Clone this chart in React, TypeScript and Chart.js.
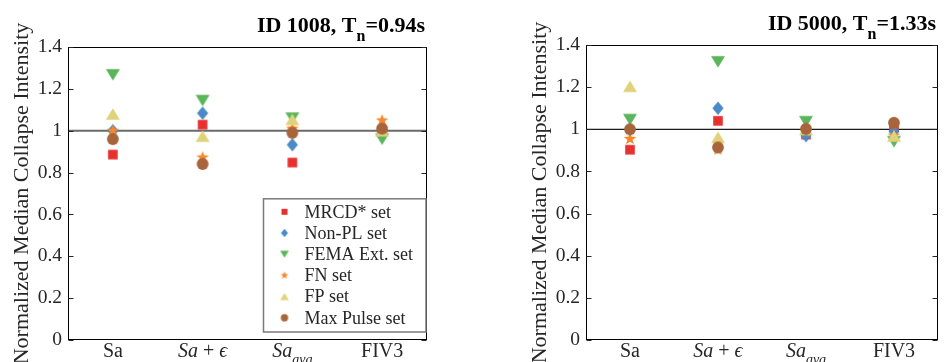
import React, { useEffect, useRef } from 'react';
import { Chart, registerables } from 'chart.js';

Chart.register(...registerables);

// ---------- data ----------
const categories = ['Sa', 'Sa + ϵ', 'Sa_avg', 'FIV3'];
const categoryIsMath = [false, true, true, false];

const seriesNames = ['MRCD* set', 'Non-PL set', 'FEMA Ext. set', 'FN set', 'FP set', 'Max Pulse set'];
const seriesColors = ['#E8302F', '#4A8AC6', '#5BB55A', '#F7872A', '#E0D27A', '#A8643B'];
const seriesShapes = ['square', 'diamond', 'triangleDown', 'star', 'triangleUp', 'circle'];

const yMin = 0;
const yMax = 1.4;
const yStep = 0.2;
const referenceValue = 1;
const yAxisLabel = 'Normalized Median Collapse Intensity';

// ID 1008, Tn = 0.94 s
const mrcd1008 = [0.886, 1.029, 0.848, 1.0];
const nonpl1008 = [1.0, 1.084, 0.933, 0.99];
const fema1008 = [1.267, 1.144, 1.06, 0.959];
const fn1008 = [1.0, 0.872, 1.01, 1.049];
const fp1008 = [1.08, 0.974, 1.054, 1.0];
const maxPulse1008 = [0.96, 0.841, 0.99, 1.01];

// ID 5000, Tn = 1.33 s
const mrcd5000 = [0.903, 1.04, 0.975, 1.012];
const nonpl5000 = [1.0, 1.1, 0.97, 0.99];
const fema5000 = [1.046, 1.32, 1.036, 0.941];
const fn5000 = [0.954, 0.904, 0.99, 0.97];
const fp5000 = [1.204, 0.962, 1.0, 0.968];
const maxPulse5000 = [1.0, 0.914, 1.002, 1.031];

const panels = [
  {
    id: 'ID 1008',
    period: '0.94s',
    series: [mrcd1008, nonpl1008, fema1008, fn1008, fp1008, maxPulse1008],
    showLegend: true,
  },
  {
    id: 'ID 5000',
    period: '1.33s',
    series: [mrcd5000, nonpl5000, fema5000, fn5000, fp5000, maxPulse5000],
    showLegend: false,
  },
];

// ---------- layout / style ----------
const panelLayouts = [
  { left: 0, width: 470, yAxisWidth: 68, padTop: 47, padRight: 43, ylabelX: 22, refColor: '#6a6a6a', refWidth: 2 },
  { left: 470, width: 475, yAxisWidth: 116, padTop: 45, padRight: 2, ylabelX: 70, refColor: '#1a1a1a', refWidth: 1.3 },
];
const HEIGHT = 362;
const PAD_BOTTOM = 22;
const FONT = "'Liberation Serif', 'Times New Roman', serif";
const TEXT = '#262626';

function traceShape(ctx: CanvasRenderingContext2D, shape: string, cx: number, cy: number, k: number) {
  ctx.beginPath();
  switch (shape) {
    case 'square': {
      const h = 4.8 * k;
      ctx.rect(cx - h, cy - h, 2 * h, 2 * h);
      break;
    }
    case 'circle':
      ctx.arc(cx, cy, 5.9 * k, 0, Math.PI * 2);
      break;
    case 'diamond': {
      const w = 5.6 * k, h = 6.8 * k;
      ctx.moveTo(cx, cy - h);
      ctx.lineTo(cx + w, cy);
      ctx.lineTo(cx, cy + h);
      ctx.lineTo(cx - w, cy);
      ctx.closePath();
      break;
    }
    case 'triangleUp': {
      const w = 7 * k, h = 5.7 * k;
      ctx.moveTo(cx, cy - h);
      ctx.lineTo(cx + w, cy + h);
      ctx.lineTo(cx - w, cy + h);
      ctx.closePath();
      break;
    }
    case 'triangleDown': {
      const w = 7 * k, h = 5.7 * k;
      ctx.moveTo(cx, cy + h);
      ctx.lineTo(cx + w, cy - h);
      ctx.lineTo(cx - w, cy - h);
      ctx.closePath();
      break;
    }
    case 'star': {
      const R = 6.6 * k, r = R * 0.42;
      for (let i = 0; i < 10; i++) {
        const a = -Math.PI / 2 + (i * Math.PI) / 5;
        const rad = i % 2 ? r : R;
        const px = cx + Math.cos(a) * rad, py = cy + Math.sin(a) * rad;
        if (i === 0) ctx.moveTo(px, py);
        else ctx.lineTo(px, py);
      }
      ctx.closePath();
      break;
    }
  }
}

function makeMarker(shape: string, color: string, k: number) {
  const c = document.createElement('canvas');
  const size = Math.ceil(16 * k) + 2;
  c.width = size;
  c.height = size;
  const ctx = c.getContext('2d')!;
  ctx.fillStyle = color;
  traceShape(ctx, shape, size / 2, size / 2, k);
  ctx.fill();
  return c;
}

type Seg = { text: string; italic: boolean; sub: boolean };
function labelSegments(label: string, isMath: boolean): Seg[] {
  if (!isMath) return [{ text: label, italic: false, sub: false }];
  const [base, sub] = label.split('_');
  const segs: Seg[] = [];
  base.split(/(\s\+\s)/).forEach((p) => {
    if (!p) return;
    segs.push({ text: p, italic: !/\+/.test(p), sub: false });
  });
  if (sub) segs.push({ text: sub, italic: true, sub: true });
  return segs;
}

function makeDecorPlugin(panelIndex: number) {
  const panel = panels[panelIndex];
  const lay = panelLayouts[panelIndex];
  const legendMarkers = seriesShapes.map((s, i) => makeMarker(s, seriesColors[i], 0.62));
  return {
    id: 'decor' + panelIndex,
    afterDraw(chart: any) {
      const ctx: CanvasRenderingContext2D = chart.ctx;
      const { left, right, top, bottom } = chart.chartArea;
      const ys = chart.scales.y;
      const xs = chart.scales.x;
      ctx.save();
      // axes box
      const L = Math.round(left) + 0.5, R = Math.round(right) - 0.5;
      const T = Math.round(top) + 0.5, B = Math.round(bottom) - 0.5;
      ctx.strokeStyle = '#000';
      ctx.lineWidth = 1;
      ctx.strokeRect(L, T, R - L, B - T);
      // inward y ticks
      ctx.strokeStyle = TEXT;
      ys.ticks.forEach((t: any) => {
        const y = Math.round(ys.getPixelForValue(t.value)) + 0.5;
        ctx.beginPath();
        ctx.moveTo(L, y);
        ctx.lineTo(L + 5, y);
        ctx.moveTo(R, y);
        ctx.lineTo(R - 5, y);
        ctx.stroke();
      });
      // y axis label
      ctx.save();
      ctx.translate(lay.ylabelX, (top + bottom) / 2);
      ctx.rotate(-Math.PI / 2);
      ctx.font = `22px ${FONT}`;
      ctx.fillStyle = TEXT;
      ctx.textAlign = 'center';
      ctx.textBaseline = 'middle';
      ctx.fillText(yAxisLabel, 0, 0);
      ctx.restore();
      // category labels
      ctx.textBaseline = 'alphabetic';
      ctx.textAlign = 'left';
      ctx.fillStyle = TEXT;
      categories.forEach((cat, i) => {
        const segs = labelSegments(cat, categoryIsMath[i]);
        const fontFor = (s: Seg) => `${s.italic ? 'italic ' : ''}${s.sub ? 14 : 20}px ${FONT}`;
        let total = 0;
        segs.forEach((s) => {
          ctx.font = fontFor(s);
          total += ctx.measureText(s.text).width;
        });
        let x = xs.getPixelForValue(i + 1) - total / 2;
        const base = bottom + 17;
        segs.forEach((s) => {
          ctx.font = fontFor(s);
          ctx.fillText(s.text, x, s.sub ? base + 7 : base);
          x += ctx.measureText(s.text).width;
        });
      });
      // title
      const mainFont = `bold 22px ${FONT}`;
      const subFont = `bold 16px ${FONT}`;
      const parts = [
        { text: `${panel.id}, T`, font: mainFont, dy: 0 },
        { text: 'n', font: subFont, dy: 9 },
        { text: `=${panel.period}`, font: mainFont, dy: 0 },
      ];
      let tw = 0;
      parts.forEach((p) => {
        ctx.font = p.font;
        tw += ctx.measureText(p.text).width;
      });
      let tx = right - 2 - tw;
      const tBase = top - 15.5;
      ctx.fillStyle = '#000';
      parts.forEach((p) => {
        ctx.font = p.font;
        ctx.fillText(p.text, tx, tBase + p.dy);
        tx += ctx.measureText(p.text).width;
      });
      // legend
      if (panel.showLegend) {
        ctx.font = `18px ${FONT}`;
        let maxW = 0;
        seriesNames.forEach((n) => (maxW = Math.max(maxW, ctx.measureText(n).width)));
        const rowH = 21.2;
        const bw = 41 + maxW + 13;
        const bh = rowH * seriesNames.length + 6;
        const bx = right - 1 - bw;
        const by = bottom - 8 - bh;
        ctx.fillStyle = '#fff';
        ctx.fillRect(bx, by, bw, bh);
        ctx.strokeStyle = '#7a7a7a';
        ctx.lineWidth = 1.5;
        ctx.strokeRect(bx, by, bw, bh);
        ctx.textBaseline = 'middle';
        seriesNames.forEach((n, i) => {
          const cy = by + 13 + i * rowH;
          const m = legendMarkers[i];
          ctx.drawImage(m, bx + 21 - m.width / 2, cy - m.height / 2);
          ctx.fillStyle = TEXT;
          ctx.fillText(n, bx + 41, cy + 1);
        });
      }
      ctx.restore();
    },
  };
}

function Panel({ index }: { index: number }) {
  const ref = useRef<HTMLCanvasElement | null>(null);
  useEffect(() => {
    const panel = panels[index];
    const lay = panelLayouts[index];
    const datasets: any[] = panel.series.map((vals, i) => ({
      label: seriesNames[i],
      data: vals.map((v, j) => ({ x: j + 1, y: v })),
      pointStyle: makeMarker(seriesShapes[i], seriesColors[i], 1),
      pointRadius: 6,
      backgroundColor: seriesColors[i],
      borderColor: seriesColors[i],
      showLine: false,
      order: seriesNames.length - i,
    }));
    datasets.push({
      label: 'reference',
      data: [
        { x: 0.5, y: referenceValue },
        { x: categories.length + 0.5, y: referenceValue },
      ],
      showLine: true,
      pointRadius: 0,
      borderColor: lay.refColor,
      borderWidth: lay.refWidth,
      order: 100,
    });
    const chart = new Chart(ref.current!, {
      type: 'scatter',
      data: { datasets },
      options: {
        responsive: false,
        animation: false,
        devicePixelRatio: 1,
        layout: { padding: { left: 0, top: lay.padTop, right: lay.padRight, bottom: PAD_BOTTOM } },
        plugins: { legend: { display: false }, tooltip: { enabled: false }, title: { display: false } },
        scales: {
          x: {
            type: 'linear',
            min: 0.5,
            max: categories.length + 0.5,
            display: false,
          },
          y: {
            type: 'linear',
            min: yMin,
            max: yMax,
            grid: { display: false, drawTicks: false },
            border: { display: false },
            ticks: {
              stepSize: yStep,
              padding: 6,
              color: TEXT,
              font: { family: FONT, size: 19.5 },
              callback: (v: any) => String(Math.round(Number(v) * 10) / 10),
            },
            afterFit: (s: any) => {
              s.width = lay.yAxisWidth;
            },
          },
        },
      },
      plugins: [makeDecorPlugin(index)],
    } as any);
    return () => chart.destroy();
  }, [index]);
  const lay = panelLayouts[index];
  return (
    <canvas
      ref={ref}
      width={lay.width}
      height={HEIGHT}
      style={{ position: 'absolute', left: lay.left, top: 0, width: lay.width, height: HEIGHT }}
    />
  );
}

export default function App() {
  return (
    <div style={{ position: 'absolute', left: 0, top: 0, width: 945, height: HEIGHT, background: '#fff', overflow: 'hidden' }}>
      {panels.map((_, i) => (
        <Panel key={i} index={i} />
      ))}
    </div>
  );
}
